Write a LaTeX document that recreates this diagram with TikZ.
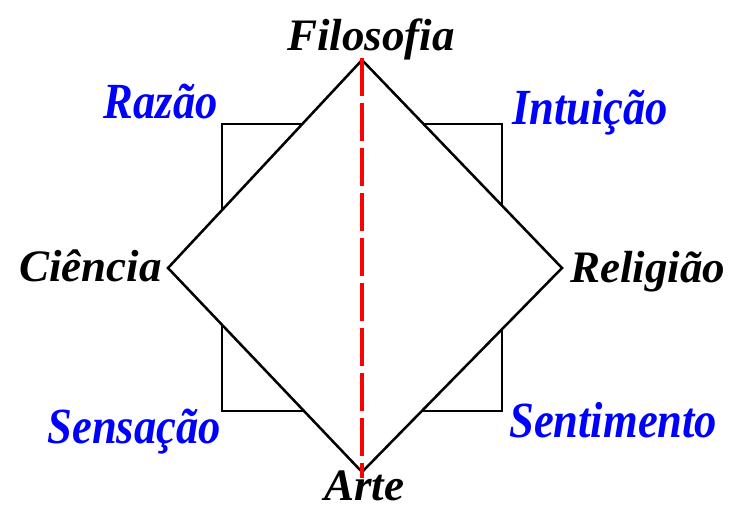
\documentclass[tikz,border=0pt]{standalone}
\usepackage{fontspec}
\setmainfont{Liberation Serif}
\usepackage{tikz}
\usetikzlibrary{positioning}

\begin{document}
\begin{tikzpicture}[
    x=0.025cm, y=-0.025cm,
    term/.style={
        inner sep=0pt, anchor=base,
        font=\fontsize{32}{36}\selectfont\bfseries\itshape
    },
    faculty/.style={
        term, text=blue, font=\fontsize{36}{40}\selectfont\bfseries\itshape
    },
    frame/.style={draw=black, line width=1.8pt},
    axis/.style={draw=red, line width=2.6pt, dash pattern=on 27pt off 5pt}
]

\useasboundingbox (0,0) rectangle (736,508);

% square of the faculties
\draw[frame] (222,124) rectangle (502,411);

% diamond
\coordinate (top)    at (362,60);
\coordinate (left)   at (168,268);
\coordinate (right)  at (562,268);
\coordinate (bottom) at (362,472);
\draw[frame, fill=white] (top) -- (right) -- (bottom) -- (left) -- cycle;

% vertical axis
\draw[axis] (362,58) -- (362,478);

% labels
\node[term] (filo) at (371,50)  {Filosofia};
\node[term] (arte) at (364,500) {Arte};
\node[term, anchor=base east] (cien) at (162,281) {Ciência};
\node[term, anchor=base west] (reli) at (570,282) {Religião};

\node[faculty, anchor=base east] (razao) at (218,118) {\scalebox{0.88}[1]{Razão}};
\node[faculty, anchor=base west] (intu)  at (512,124) {\scalebox{0.88}[1]{Intuição}};
\node[faculty, anchor=base east] (sens)  at (221,443) {\scalebox{0.88}[1]{Sensação}};
\node[faculty, anchor=base west] (senti) at (509,437) {\scalebox{0.88}[1]{Sentimento}};

\end{tikzpicture}
\end{document}
